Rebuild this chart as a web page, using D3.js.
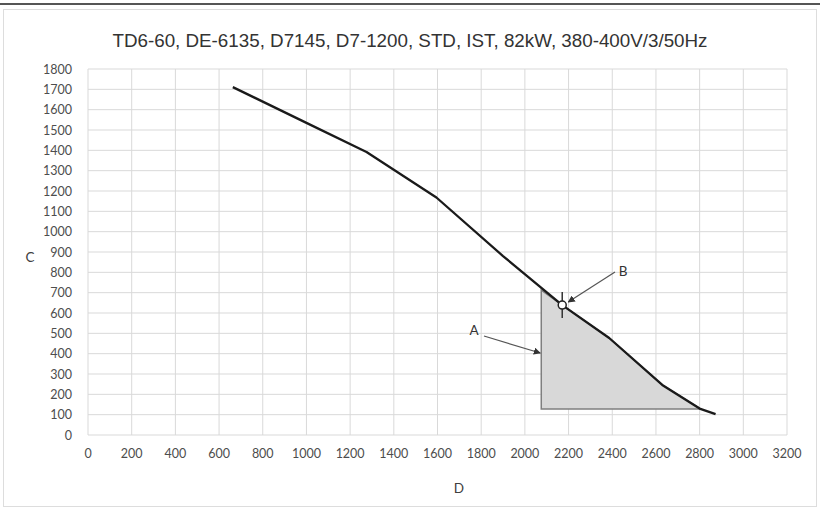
<!DOCTYPE html>
<html><head><meta charset="utf-8">
<script src="https://cdn.jsdelivr.net/npm/d3@7"></script>
<style>body{margin:0;background:#fff;} svg{display:block;}</style>
</head><body>
<svg id="c" width="820" height="512"></svg>
<script>
const title = "TD6-60, DE-6135, D7145, D7-1200, STD, IST, 82kW, 380-400V/3/50Hz";
const xTicks = [0,200,400,600,800,1000,1200,1400,1600,1800,2000,2200,2400,2600,2800,3000,3200];
const yTicks = [0,100,200,300,400,500,600,700,800,900,1000,1100,1200,1300,1400,1500,1600,1700,1800];
const curveX = [663, 1000, 1275, 1595, 1900, 2171, 2386, 2629, 2800, 2873];
const curveY = [1711, 1535, 1392, 1168, 880, 639, 477, 246, 130, 103];
const areaX = [2075, 2075, 2171, 2386, 2629, 2805];
const areaY = [128, 713, 639, 477, 246, 128];
const pointB = [2171, 639];
const xLabel = "D", yLabel = "C";

const svg = d3.select("#c");
const x = d3.scaleLinear().domain([0,3200]).range([88,787]);
const y = d3.scaleLinear().domain([0,1800]).range([435,69]);

// outer frame
svg.append("line").attr("x1",0).attr("x2",820).attr("y1",4).attr("y2",4).attr("stroke","#555").attr("stroke-width",2);
svg.append("rect").attr("x",3.5).attr("y",9.5).attr("width",813).attr("height",497).attr("fill","none").attr("stroke","#ddd");

// grid
svg.append("g").selectAll("line").data(xTicks).join("line")
  .attr("x1",d=>x(d)).attr("x2",d=>x(d)).attr("y1",y(0)).attr("y2",y(1800))
  .attr("stroke","#d9d9d9").attr("stroke-width",1);
svg.append("g").selectAll("line").data(yTicks).join("line")
  .attr("x1",x(0)).attr("x2",x(3200)).attr("y1",d=>y(d)).attr("y2",d=>y(d))
  .attr("stroke","#d9d9d9").attr("stroke-width",1);

// axes labels
const font = "Lato, 'Open Sans', sans-serif";
svg.append("g").selectAll("text").data(yTicks).join("text")
  .attr("x",72).attr("y",d=>y(d)+4.5).attr("text-anchor","end")
  .attr("font-family",font).attr("font-size",12.5).attr("fill","#4d4d4d").text(d=>d);
svg.append("g").selectAll("text").data(xTicks).join("text")
  .attr("x",d=>x(d)).attr("y",458).attr("text-anchor","middle")
  .attr("font-family",font).attr("font-size",12.5).attr("fill","#4d4d4d").text(d=>d);
svg.append("text").attr("x",30).attr("y",262).attr("text-anchor","middle")
  .attr("font-family",font).attr("font-size",13.5).attr("fill","#404040").text(yLabel);
svg.append("text").attr("x",459).attr("y",493).attr("text-anchor","middle")
  .attr("font-family",font).attr("font-size",13.5).attr("fill","#404040").text(xLabel);

// title
svg.append("text").attr("x",410).attr("y",47).attr("text-anchor","middle")
  .attr("font-family","'Liberation Sans', Arial, sans-serif").attr("font-size",18.8).attr("fill","#333").text(title);

// shaded area
const area = areaX.map((v,i)=>[x(v),y(areaY[i])]);
svg.append("path").attr("d","M"+area.map(p=>p.join(",")).join("L")+"Z")
  .attr("fill","#d8d8d8").attr("stroke","#7f7f7f").attr("stroke-width",1.5);

// curve
const line = d3.line().x(d=>x(d[0])).y(d=>y(d[1]));
svg.append("path").datum(curveX.map((v,i)=>[v,curveY[i]])).attr("d",line)
  .attr("fill","none").attr("stroke","#1a1a1a").attr("stroke-width",2.3).attr("stroke-linejoin","round");

// point B
svg.append("line").attr("x1",x(pointB[0])).attr("x2",x(pointB[0]))
  .attr("y1",y(pointB[1])-13).attr("y2",y(pointB[1])+13).attr("stroke","#333").attr("stroke-width",1.5);
svg.append("circle").attr("cx",x(pointB[0])).attr("cy",y(pointB[1])).attr("r",4)
  .attr("fill","#fff").attr("stroke","#222").attr("stroke-width",1.5);

// arrows
const defs = svg.append("defs");
defs.append("marker").attr("id","ah").attr("viewBox","0 0 10 10").attr("refX",9).attr("refY",5)
  .attr("markerWidth",6).attr("markerHeight",6).attr("orient","auto")
  .append("path").attr("d","M0,0L10,5L0,10Z").attr("fill","#333");
svg.append("line").attr("x1",615).attr("y1",272).attr("x2",x(pointB[0])+6).attr("y2",y(pointB[1])-3)
  .attr("stroke","#555").attr("stroke-width",1.2).attr("marker-end","url(#ah)");
svg.append("text").attr("x",623).attr("y",276).attr("text-anchor","middle")
  .attr("font-family",font).attr("font-size",13.5).attr("fill","#333").text("B");
svg.append("line").attr("x1",484).attr("y1",336).attr("x2",x(areaX[0])-1).attr("y2",353)
  .attr("stroke","#555").attr("stroke-width",1.2).attr("marker-end","url(#ah)");
svg.append("text").attr("x",474).attr("y",335).attr("text-anchor","middle")
  .attr("font-family",font).attr("font-size",13.5).attr("fill","#333").text("A");
</script>
</body></html>
